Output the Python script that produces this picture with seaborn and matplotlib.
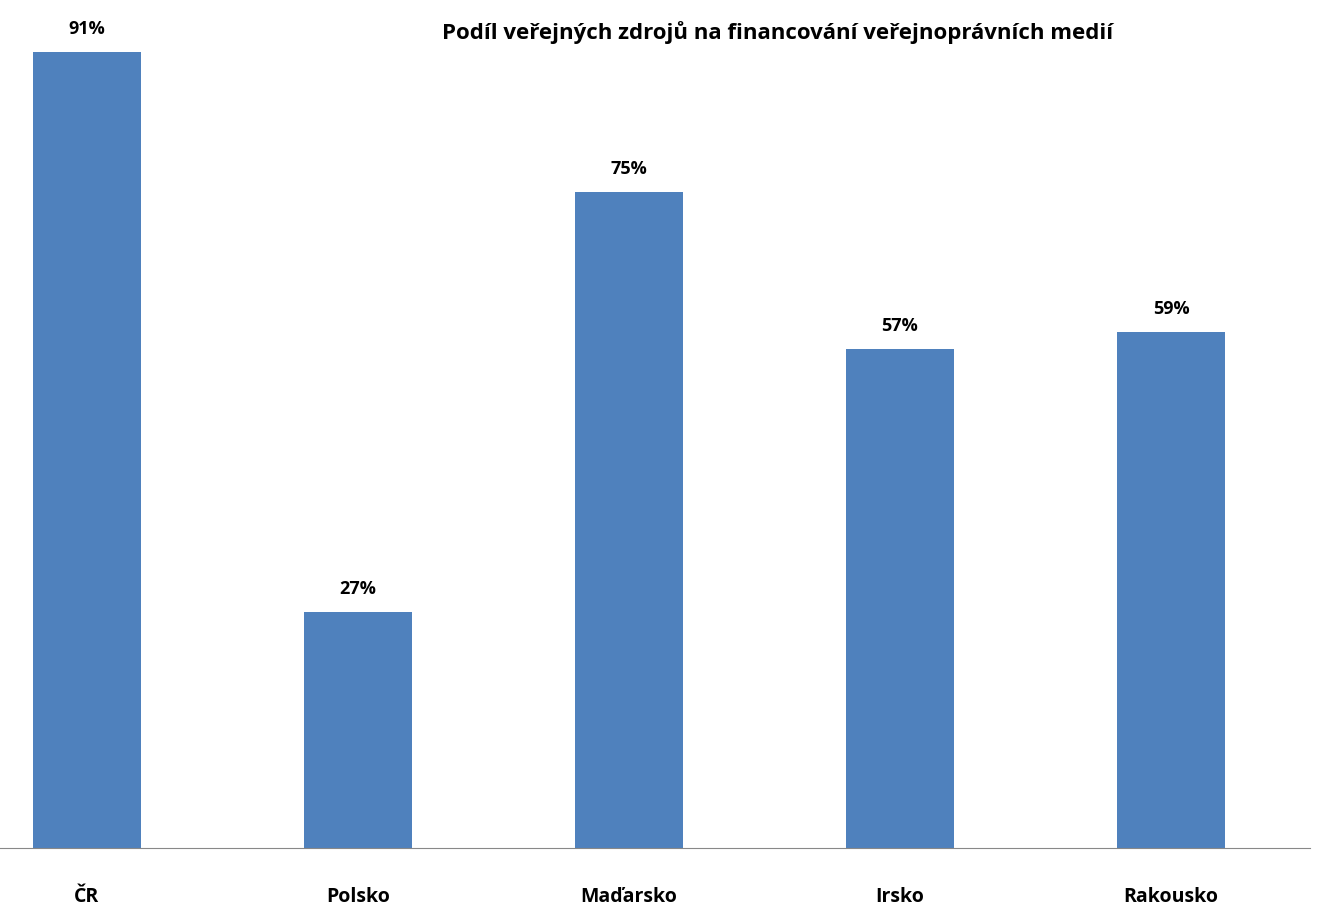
import matplotlib
matplotlib.use("Agg")
import matplotlib.pyplot as plt
import seaborn as sns
import pandas as pd

categories = ["ČR", "Polsko", "Maďarsko", "Irsko", "Rakousko"]
values = [91, 27, 75, 57, 59]
labels = ["91%", "27%", "75%", "57%", "59%"]
title = "Podíl veřejných zdrojů na financování veřejnoprávních medií"

df = pd.DataFrame({"cat": categories, "val": values})
W, H = 1320, 923
fig = plt.figure(figsize=(W/100, H/100), dpi=100)
ax = fig.add_axes([0, 75/H, 1310/W, 848/H])
sns.barplot(data=df, x="cat", y="val", color="#4F81BD", saturation=1, width=0.4, ax=ax)
ax.set_xlim(-0.321, 4.513)
ax.set_ylim(0, 96.9)
for i, (v, l) in enumerate(zip(values, labels)):
    ax.text(i, v + 1.6, l, ha="center", va="bottom", fontsize=13, fontweight="bold", family="Open Sans")
for s in ["top", "right", "left"]:
    ax.spines[s].set_visible(False)
ax.spines["bottom"].set_color("#888888")
ax.set_yticks([])
ax.set_xlabel(""); ax.set_ylabel("")
ax.tick_params(axis="x", length=0, pad=28)
for t in ax.get_xticklabels():
    t.set_fontsize(14); t.set_fontweight("bold"); t.set_family("Open Sans")
fig.text(778/W, 1 - 33/H, title, ha="center", va="center", fontsize=16, fontweight="bold", family="Open Sans")
fig.savefig("out.png", dpi=100)
